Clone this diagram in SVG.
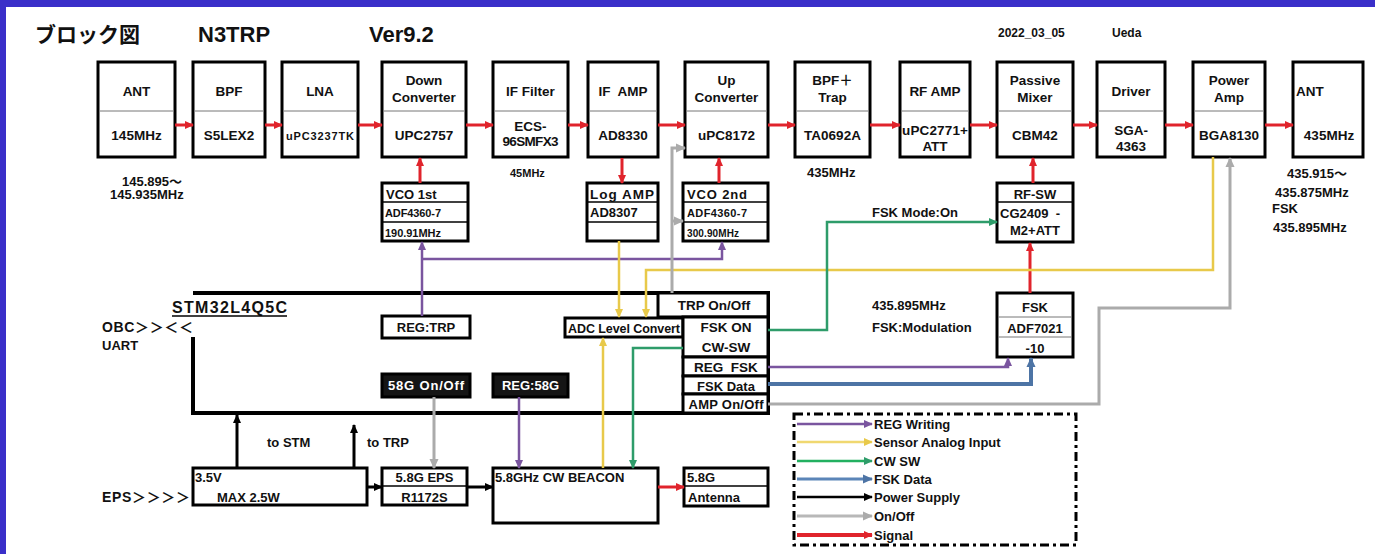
<svg xmlns="http://www.w3.org/2000/svg" width="1375" height="554" viewBox="0 0 1375 554">
<style>
.b{fill:#fff;stroke:#000;stroke-width:3}
.bi{fill:#151515;stroke:#000;stroke-width:3}
.dv{stroke:#777;stroke-width:1}
.dk{stroke:#000;stroke-width:1.5}
.t{font-family:"Liberation Sans",Arial,sans-serif;font-weight:bold;font-size:13.5px;fill:#111}
.j{font-family:"Liberation Sans","Noto Sans CJK JP",sans-serif}
.c{text-anchor:middle}
.s{font-size:11px}
.xs{font-size:10px}
.m{font-size:13px}
.w{fill:#fff}
.red{stroke:#e0242c;stroke-width:3;fill:none}
.blk{stroke:#000;stroke-width:3;fill:none}
.pur{stroke:#7a559f;stroke-width:2.5;fill:none}
.yel{stroke:#e8c94a;stroke-width:2.5;fill:none}
.grn{stroke:#2e9c6a;stroke-width:2.5;fill:none}
.blu{stroke:#4d74a5;stroke-width:4;fill:none}
.gry{stroke:#ababab;stroke-width:3;fill:none}
</style>
<defs>
<marker id="aR" viewBox="0 0 10 10" refX="9" refY="5" markerWidth="9" markerHeight="9" markerUnits="userSpaceOnUse" orient="auto"><path d="M0,0.5L10,5L0,9.5z" fill="#e0242c"/></marker>
<marker id="aK" viewBox="0 0 10 10" refX="9" refY="5" markerWidth="9" markerHeight="9" markerUnits="userSpaceOnUse" orient="auto"><path d="M0,0.5L10,5L0,9.5z" fill="#000"/></marker>
<marker id="aP" viewBox="0 0 10 10" refX="9" refY="5" markerWidth="9" markerHeight="9" markerUnits="userSpaceOnUse" orient="auto"><path d="M0,0.5L10,5L0,9.5z" fill="#7a559f"/></marker>
<marker id="aY" viewBox="0 0 10 10" refX="9" refY="5" markerWidth="9" markerHeight="9" markerUnits="userSpaceOnUse" orient="auto"><path d="M0,0.5L10,5L0,9.5z" fill="#e8c94a"/></marker>
<marker id="aG" viewBox="0 0 10 10" refX="9" refY="5" markerWidth="9" markerHeight="9" markerUnits="userSpaceOnUse" orient="auto"><path d="M0,0.5L10,5L0,9.5z" fill="#2e9c6a"/></marker>
<marker id="aB" viewBox="0 0 10 10" refX="9" refY="5" markerWidth="10" markerHeight="10" markerUnits="userSpaceOnUse" orient="auto"><path d="M0,0.5L10,5L0,9.5z" fill="#4d74a5"/></marker>
<marker id="aS" viewBox="0 0 10 10" refX="9" refY="5" markerWidth="10" markerHeight="10" markerUnits="userSpaceOnUse" orient="auto"><path d="M0,0.5L10,5L0,9.5z" fill="#ababab"/></marker>
</defs>

<rect x="0" y="0" width="1375" height="554" fill="#3a2fc9"/>
<rect x="6" y="7" width="1369" height="547" fill="#fff"/>

<g id="header">
<text class="t j" x="35" y="42" style="font-size:21px">ブロック図</text>
<text class="t" x="198" y="42" style="font-size:22px">N3TRP</text>
<text class="t" x="369" y="42" style="font-size:22px">Ver9.2</text>
<text class="t" x="998" y="37" style="font-size:12px">2022_03_05</text>
<text class="t" x="1112" y="37" style="font-size:12px">Ueda</text>
</g>

<g id="labels">
<text class="t j m" x="122" y="186">145.895～</text>
<text class="t m" x="110" y="199">145.935MHz</text>
<text class="t s" x="510" y="177">45MHz</text>
<text class="t m" x="807" y="177">435MHz</text>
<text class="t j m" x="1287" y="178">435.915～</text>
<text class="t m" x="1275" y="197">435.875MHz</text>
<text class="t m" x="1272" y="213">FSK</text>
<text class="t m" x="1273" y="232">435.895MHz</text>
<text class="t m" x="872" y="217">FSK Mode:On</text>
<text class="t m" x="872" y="310">435.895MHz</text>
<text class="t m" x="872" y="332">FSK:Modulation</text>
<text class="t j" x="102" y="332" style="font-size:14px" textLength="91">OBC＞＞＜＜</text>
<text class="t m" x="102" y="350">UART</text>
<text class="t j" x="102" y="502" style="font-size:14px" textLength="88">EPS＞＞＞＞</text>
<text class="t m" x="267" y="447">to STM</text>
<text class="t m" x="367" y="447">to TRP</text>
</g>

<g id="stm32">
<path d="M193,293H768V413H193V337" fill="none" stroke="#000" stroke-width="4"/>
<text class="t" x="172" y="313" style="font-size:16px" textLength="115">STM32L4Q5C</text>
<line x1="172" y1="316" x2="287" y2="316" stroke="#000" stroke-width="1.5"/>
</g>

<g id="n-ant1"><rect class="b" x="98" y="62" width="77" height="95"/><line class="dv" x1="100" y1="111" x2="173" y2="111"/><text class="t c" x="136.5" y="96">ANT</text><text class="t c" x="136.5" y="140">145MHz</text></g>
<g id="n-bpf"><rect class="b" x="193" y="62" width="72" height="95"/><line class="dv" x1="195" y1="111" x2="263" y2="111"/><text class="t c" x="229" y="96">BPF</text><text class="t c" x="229" y="140">S5LEX2</text></g>
<g id="n-lna"><rect class="b" x="282" y="62" width="76" height="95"/><line class="dv" x1="284" y1="111" x2="356" y2="111"/><text class="t c" x="320" y="96">LNA</text><text class="t c s" x="320" y="140" textLength="68">uPC3237TK</text></g>
<g id="n-down"><rect class="b" x="382" y="62" width="84" height="95"/><line class="dv" x1="384" y1="111" x2="464" y2="111"/><text class="t c" x="424" y="85">Down</text><text class="t c" x="424" y="102">Converter</text><text class="t c" x="424" y="140">UPC2757</text></g>
<g id="n-iffilter"><rect class="b" x="493" y="62" width="75" height="95"/><line class="dv" x1="495" y1="111" x2="566" y2="111"/><text class="t c" x="530.5" y="96">IF Filter</text><text class="t c" x="530.5" y="131">ECS-</text><text class="t c" x="530.5" y="146" textLength="56">96SMFX3</text></g>
<g id="n-ifamp"><rect class="b" x="588" y="62" width="70" height="95"/><line class="dv" x1="590" y1="111" x2="656" y2="111"/><text class="t c" x="623" y="96" xml:space="preserve">IF  AMP</text><text class="t c" x="623" y="140">AD8330</text></g>
<g id="n-up"><rect class="b" x="685" y="62" width="83" height="95"/><line class="dv" x1="687" y1="111" x2="766" y2="111"/><text class="t c" x="726.5" y="85">Up</text><text class="t c" x="726.5" y="102">Converter</text><text class="t c" x="726.5" y="140">uPC8172</text></g>
<g id="n-bpftrap"><rect class="b" x="795" y="62" width="75" height="95"/><line class="dv" x1="797" y1="111" x2="868" y2="111"/><text class="t c j" x="832.5" y="85">BPF＋</text><text class="t c" x="832.5" y="102">Trap</text><text class="t c" x="832.5" y="140">TA0692A</text></g>
<g id="n-rfamp"><rect class="b" x="900" y="62" width="70" height="95"/><line class="dv" x1="902" y1="111" x2="968" y2="111"/><text class="t c" x="935" y="96">RF AMP</text><text class="t c" x="935" y="135" textLength="66">uPC2771+</text><text class="t c" x="935" y="151">ATT</text></g>
<g id="n-mixer"><rect class="b" x="997" y="62" width="76" height="95"/><line class="dv" x1="999" y1="111" x2="1071" y2="111"/><text class="t c" x="1035" y="85">Passive</text><text class="t c" x="1035" y="102">Mixer</text><text class="t c" x="1035" y="140">CBM42</text></g>
<g id="n-driver"><rect class="b" x="1097" y="62" width="68" height="95"/><line class="dv" x1="1099" y1="111" x2="1163" y2="111"/><text class="t c" x="1131" y="96">Driver</text><text class="t c" x="1131" y="135">SGA-</text><text class="t c" x="1131" y="151">4363</text></g>
<g id="n-pa"><rect class="b" x="1193" y="62" width="72" height="95"/><line class="dv" x1="1195" y1="111" x2="1263" y2="111"/><text class="t c" x="1229" y="85">Power</text><text class="t c" x="1229" y="102">Amp</text><text class="t c" x="1229" y="140">BGA8130</text></g>
<g id="n-ant2"><rect class="b" x="1293" y="62" width="70" height="95"/><text class="t" x="1296" y="96">ANT</text><text class="t c" x="1329" y="140">435MHz</text></g>

<g id="n-vco1"><rect class="b" x="382" y="183" width="86" height="58"/><line class="dk" x1="383" y1="202" x2="467" y2="202"/><line class="dk" x1="383" y1="222" x2="467" y2="222"/><text class="t m" x="386" y="199">VCO 1st</text><text class="t s" x="385" y="217" textLength="56">ADF4360-7</text><text class="t s" x="385" y="237" textLength="56">190.91MHz</text></g>
<g id="n-logamp"><rect class="b" x="587" y="183" width="71" height="58"/><line class="dk" x1="588" y1="202" x2="657" y2="202"/><line class="dk" x1="588" y1="222" x2="657" y2="222"/><text class="t" x="590" y="199" textLength="64">Log AMP</text><text class="t m" x="590" y="217">AD8307</text></g>
<g id="n-vco2"><rect class="b" x="683" y="183" width="85" height="58"/><line class="dk" x1="684" y1="202" x2="767" y2="202"/><line class="dk" x1="684" y1="222" x2="767" y2="222"/><text class="t m" x="687" y="199" textLength="60">VCO 2nd</text><text class="t s" x="687" y="217" textLength="60">ADF4360-7</text><text class="t xs" x="687" y="237" textLength="52">300.90MHz</text></g>
<g id="n-rfsw"><rect class="b" x="997" y="183" width="76" height="59"/><line class="dk" x1="998" y1="202" x2="1072" y2="202"/><text class="t c m" x="1035" y="199">RF-SW</text><text class="t m" x="1000" y="218" xml:space="preserve">CG2409  -</text><text class="t c m" x="1035" y="235">M2+ATT</text></g>
<g id="n-fsk"><rect class="b" x="997" y="293" width="76" height="64"/><line class="dv" x1="998" y1="317" x2="1072" y2="317"/><line class="dv" x1="998" y1="337" x2="1072" y2="337"/><text class="t c m" x="1035" y="312">FSK</text><text class="t c m" x="1035" y="333">ADF7021</text><text class="t c m" x="1035" y="353">-10</text></g>

<g id="n-regtrp"><rect class="b" x="382" y="316" width="88" height="22"/><text class="t c m" x="426" y="332">REG:TRP</text></g>
<g id="n-adc"><rect class="b" x="565" y="318" width="118" height="19"/><text class="t c" x="624" y="333" style="font-size:12.5px" textLength="112">ADC Level Convert</text></g>
<g id="n-trponoff"><rect class="b" x="658" y="293" width="110" height="24"/><text class="t c" x="714" y="310">TRP On/Off</text></g>
<g id="n-fskon"><rect class="b" x="683" y="317" width="85" height="40"/><text class="t c" x="726" y="332">FSK ON</text><text class="t c" x="726" y="352">CW-SW</text></g>
<g id="n-regfsk"><rect class="b" x="683" y="357" width="85" height="19"/><text class="t c" x="726" y="372" xml:space="preserve">REG  FSK</text></g>
<g id="n-fskdata"><rect class="b" x="683" y="376" width="85" height="18"/><text class="t c m" x="726" y="391">FSK Data</text></g>
<g id="n-amponoff"><rect class="b" x="683" y="394" width="85" height="19"/><text class="t c m" x="726" y="409" textLength="75">AMP On/Off</text></g>
<g id="n-58gonoff"><rect class="bi" x="382" y="374" width="88" height="23"/><text class="t c m w" x="426" y="390" textLength="76">58G On/Off</text></g>
<g id="n-reg58g"><rect class="bi" x="493" y="374" width="75" height="23"/><text class="t c m w" x="530.5" y="390">REG:58G</text></g>

<g id="n-power"><rect class="b" x="193" y="468" width="174" height="37"/><text class="t m" x="195" y="482">3.5V</text><text class="t m" x="217" y="502">MAX 2.5W</text></g>
<g id="n-58geps"><rect class="b" x="382" y="468" width="85" height="37"/><line class="dk" x1="383" y1="486" x2="466" y2="486"/><text class="t c m" x="424.5" y="482">5.8G EPS</text><text class="t c m" x="424.5" y="502">R1172S</text></g>
<g id="n-beacon"><rect class="b" x="493" y="468" width="165" height="55"/><text class="t m" x="495" y="482">5.8GHz CW BEACON</text></g>
<g id="n-58gant"><rect class="b" x="684" y="468" width="84" height="38"/><line class="dk" x1="685" y1="486" x2="767" y2="486"/><text class="t m" x="687" y="482">5.8G</text><text class="t m" x="688" y="502">Antenna</text></g>

<g id="connectors">
<path class="red" marker-end="url(#aR)" d="M175,125H193"/>
<path class="red" marker-end="url(#aR)" d="M265,125H282"/>
<path class="red" marker-end="url(#aR)" d="M358,125H382"/>
<path class="red" marker-end="url(#aR)" d="M466,125H493"/>
<path class="red" marker-end="url(#aR)" d="M568,125H588"/>
<path class="red" marker-end="url(#aR)" d="M658,125H685"/>
<path class="red" marker-end="url(#aR)" d="M768,125H795"/>
<path class="red" marker-end="url(#aR)" d="M870,125H900"/>
<path class="red" marker-end="url(#aR)" d="M970,125H997"/>
<path class="red" marker-end="url(#aR)" d="M1073,125H1097"/>
<path class="red" marker-end="url(#aR)" d="M1165,125H1193"/>
<path class="red" marker-end="url(#aR)" d="M1265,125H1293"/>
<path class="red" marker-end="url(#aR)" d="M420,183V158"/>
<path class="red" marker-end="url(#aR)" d="M622,158V183"/>
<path class="red" marker-end="url(#aR)" d="M719,183V158"/>
<path class="red" marker-end="url(#aR)" d="M1033,183V158"/>
<path class="red" marker-end="url(#aR)" d="M1030,293V243"/>
<path class="red" marker-end="url(#aR)" d="M658,487H684"/>

<path class="blk" marker-end="url(#aK)" d="M237,468V415"/>
<path class="blk" marker-end="url(#aK)" d="M354,468V425"/>
<path class="blk" marker-end="url(#aK)" d="M367,487H382"/>
<path class="blk" marker-end="url(#aK)" d="M467,487H493"/>

<path class="pur" marker-end="url(#aP)" d="M422,316V242"/>
<path class="pur" marker-end="url(#aP)" d="M422,259H722V242"/>
<path class="pur" marker-end="url(#aP)" d="M768,367H1008V358"/>
<path class="pur" marker-end="url(#aP)" d="M519,397V468"/>

<path class="yel" marker-end="url(#aY)" d="M619,241V317"/>
<path class="yel" marker-end="url(#aY)" d="M1213,157V270H646V317"/>
<path class="yel" marker-end="url(#aY)" d="M603,468V338"/>

<path class="grn" marker-end="url(#aG)" d="M768,330H827V222H997"/>
<path class="grn" marker-end="url(#aG)" d="M683,348H633V468"/>

<path class="blu" marker-end="url(#aB)" d="M768,384H1031V358"/>

<path class="gry" marker-end="url(#aS)" d="M672,293V148H685"/>
<path class="gry" marker-end="url(#aS)" d="M672,221H683"/>
<path class="gry" marker-end="url(#aS)" d="M768,404H1099V308H1230V158"/>
<path class="gry" marker-end="url(#aS)" d="M434,397V468"/>
</g>

<g id="legend">
<rect x="794" y="414" width="282" height="131" fill="none" stroke="#000" stroke-width="3" stroke-dasharray="9,4,3,4"/>
<path class="pur" marker-end="url(#aP)" d="M797,424H872"/>
<path class="yel" marker-end="url(#aY)" d="M797,442H872" style="stroke:#f0d870"/>
<path class="grn" marker-end="url(#aG)" d="M797,461H872" style="stroke:#22b060"/>
<path class="blu" marker-end="url(#aB)" d="M797,479H872" style="stroke:#5b85b8;stroke-width:3"/>
<path class="blk" marker-end="url(#aK)" d="M797,497H872" style="stroke-width:2.5"/>
<path class="gry" marker-end="url(#aS)" d="M797,516H872" style="stroke:#b8b8b8"/>
<path class="red" marker-end="url(#aR)" d="M797,535H872" style="stroke-width:4"/>
<text class="t m" x="874" y="429">REG Writing</text>
<text class="t m" x="874" y="447">Sensor Analog Input</text>
<text class="t m" x="874" y="466">CW SW</text>
<text class="t m" x="874" y="484">FSK Data</text>
<text class="t m" x="874" y="502">Power Supply</text>
<text class="t m" x="874" y="521">On/Off</text>
<text class="t m" x="874" y="540">Signal</text>
</g>
</svg>
